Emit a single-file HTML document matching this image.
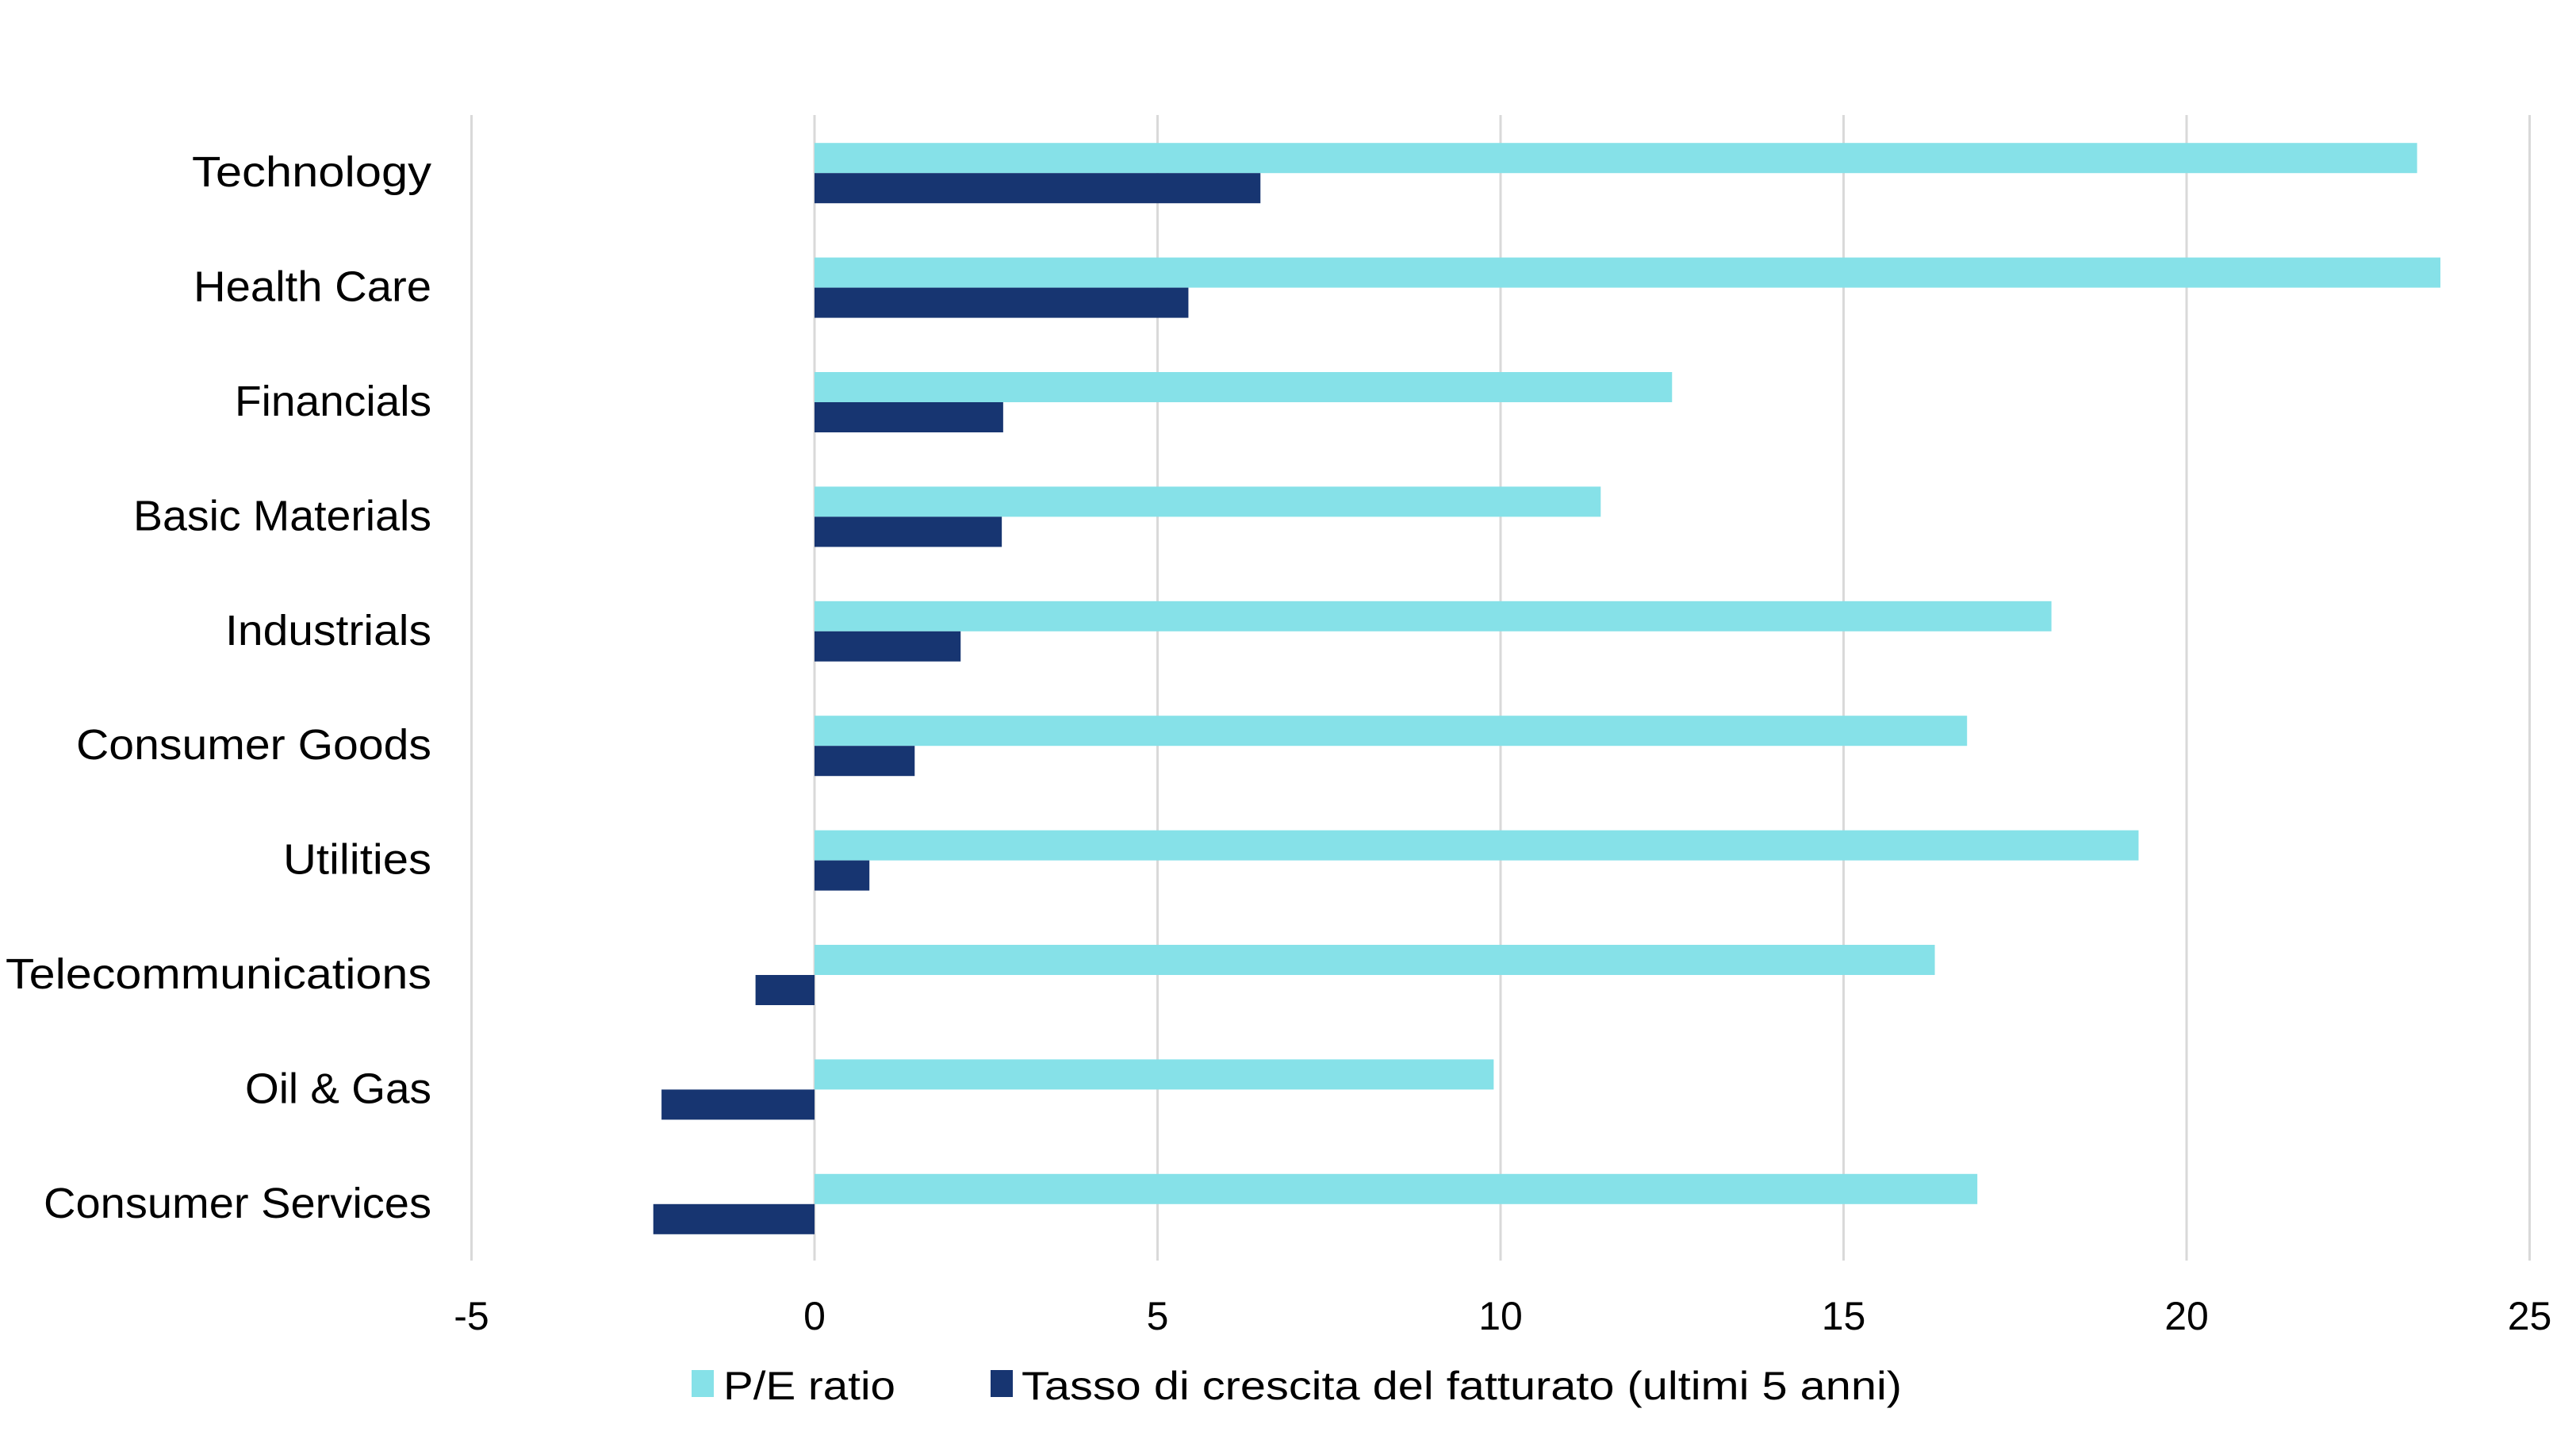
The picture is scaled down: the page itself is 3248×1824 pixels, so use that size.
<!DOCTYPE html>
<html><head><meta charset="utf-8"><style>html,body{margin:0;padding:0;background:#fff}</style></head>
<body>
<svg width="3248" height="1819" viewBox="0 0 3248 1819" xmlns="http://www.w3.org/2000/svg" font-family="Liberation Sans, sans-serif" fill="#000">
<g stroke="#d9d9d9" stroke-width="3">
<line x1="594.5" y1="145" x2="594.5" y2="1589"/>
<line x1="1027" y1="145" x2="1027" y2="1589"/>
<line x1="1459.5" y1="145" x2="1459.5" y2="1589"/>
<line x1="1892" y1="145" x2="1892" y2="1589"/>
<line x1="2324.5" y1="145" x2="2324.5" y2="1589"/>
<line x1="2757" y1="145" x2="2757" y2="1589"/>
<line x1="3189.5" y1="145" x2="3189.5" y2="1589"/>
</g>
<g id="bars"></g>
<g font-size="50" text-anchor="middle">
<text x="594.5" y="1676">-5</text>
<text x="1027" y="1676">0</text>
<text x="1459.5" y="1676">5</text>
<text x="1892" y="1676">10</text>
<text x="2324.5" y="1676">15</text>
<text x="2757" y="1676">20</text>
<text x="3189.5" y="1676">25</text>
</g>
<rect x="872" y="1727" width="28" height="34" fill="#86e1e8"/>
<text x="912" y="1764" font-size="50" textLength="217" lengthAdjust="spacingAndGlyphs">P/E ratio</text>
<rect x="1249" y="1727" width="28" height="34" fill="#173571"/>
<text x="1288" y="1764" font-size="50" textLength="1110" lengthAdjust="spacingAndGlyphs">Tasso di crescita del fatturato (ultimi 5 anni)</text>
<g id="labels" font-size="54" text-anchor="end"></g>
<script>
var d=[["Technology",23.36,6.5,302],["Health Care",23.7,5.45,300],["Financials",12.5,2.75,248],["Basic Materials",11.46,2.73,376],["Industrials",18.03,2.13,260],["Consumer Goods",16.8,1.46,448],["Utilities",19.3,0.8,187],["Telecommunications",16.33,-0.86,537],["Oil & Gas",9.9,-2.23,235],["Consumer Services",16.95,-2.35,489]];
var ns="http://www.w3.org/2000/svg",b=document.getElementById("bars"),l=document.getElementById("labels");
var z=1027,u=86.5;
d.forEach(function(r,i){
 var c=145+72.2+144.4*i;
 function rect(v,y,col){var x=v>=0?z:z+v*u,w=Math.abs(v)*u;var e=document.createElementNS(ns,"rect");e.setAttribute("x",x);e.setAttribute("y",y);e.setAttribute("width",w);e.setAttribute("height",38);e.setAttribute("fill",col);b.appendChild(e);}
 rect(r[1],c-37,"#86e1e8");rect(r[2],c+1,"#173571");
 var t=document.createElementNS(ns,"text");t.setAttribute("x",544);t.setAttribute("y",c+18);t.setAttribute("textLength",r[3]);t.setAttribute("lengthAdjust","spacingAndGlyphs");t.textContent=r[0];l.appendChild(t);
});
</script>
</svg>
</body></html>
